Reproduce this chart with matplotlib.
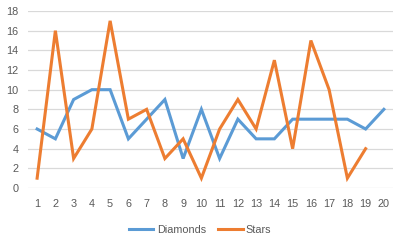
import matplotlib
matplotlib.use("Agg")
import matplotlib.pyplot as plt
from matplotlib.lines import Line2D

categories = list(range(1, 21))
diamonds = [6, 5, 9, 10, 10, 5, 7, 9, 3, 8, 3, 7, 5, 5, 7, 7, 7, 7, 6, 8]
stars = [1, 16, 3, 6, 17, 7, 8, 3, 5, 1, 6, 9, 6, 13, 4, 15, 10, 1, 4]
yticks = list(range(0, 19, 2))

plt.rcParams['font.family'] = ['Liberation Sans', 'DejaVu Sans']
fig = plt.figure(figsize=(4, 2.42), dpi=100)
ax = fig.add_axes([0.07, 0.2231, 0.9125, 0.7314])

blue = '#5B9BD5'
orange = '#ED7D31'
ax.plot(categories, diamonds, color=blue, lw=2.2, solid_joinstyle='miter', label='Diamonds')
ax.plot(categories[:len(stars)], stars, color=orange, lw=2.2, solid_joinstyle='miter', label='Stars')

ax.set_xlim(0.5, 20.5)
ax.set_ylim(0, 18)
ax.set_yticks(yticks)
ax.set_xticks(categories)
ax.grid(axis='y', color='#d9d9d9', lw=0.9)
ax.set_axisbelow(True)
for s in ax.spines.values():
    s.set_visible(False)
ax.tick_params(length=0, labelsize=7.8, labelcolor='#595959')
ax.tick_params(axis='y', pad=7)
ax.tick_params(axis='x', pad=8)

handles = [Line2D([], [], color=blue, lw=2.2), Line2D([], [], color=orange, lw=2.2)]
fig.legend(handles, ['Diamonds', 'Stars'], loc='center', bbox_to_anchor=(0.5, 0.05),
           ncol=2, frameon=False, fontsize=7.8, handlelength=2.3, handletextpad=0.3,
           columnspacing=1.1, labelcolor='#595959')
fig.savefig('out.png', dpi=100)
